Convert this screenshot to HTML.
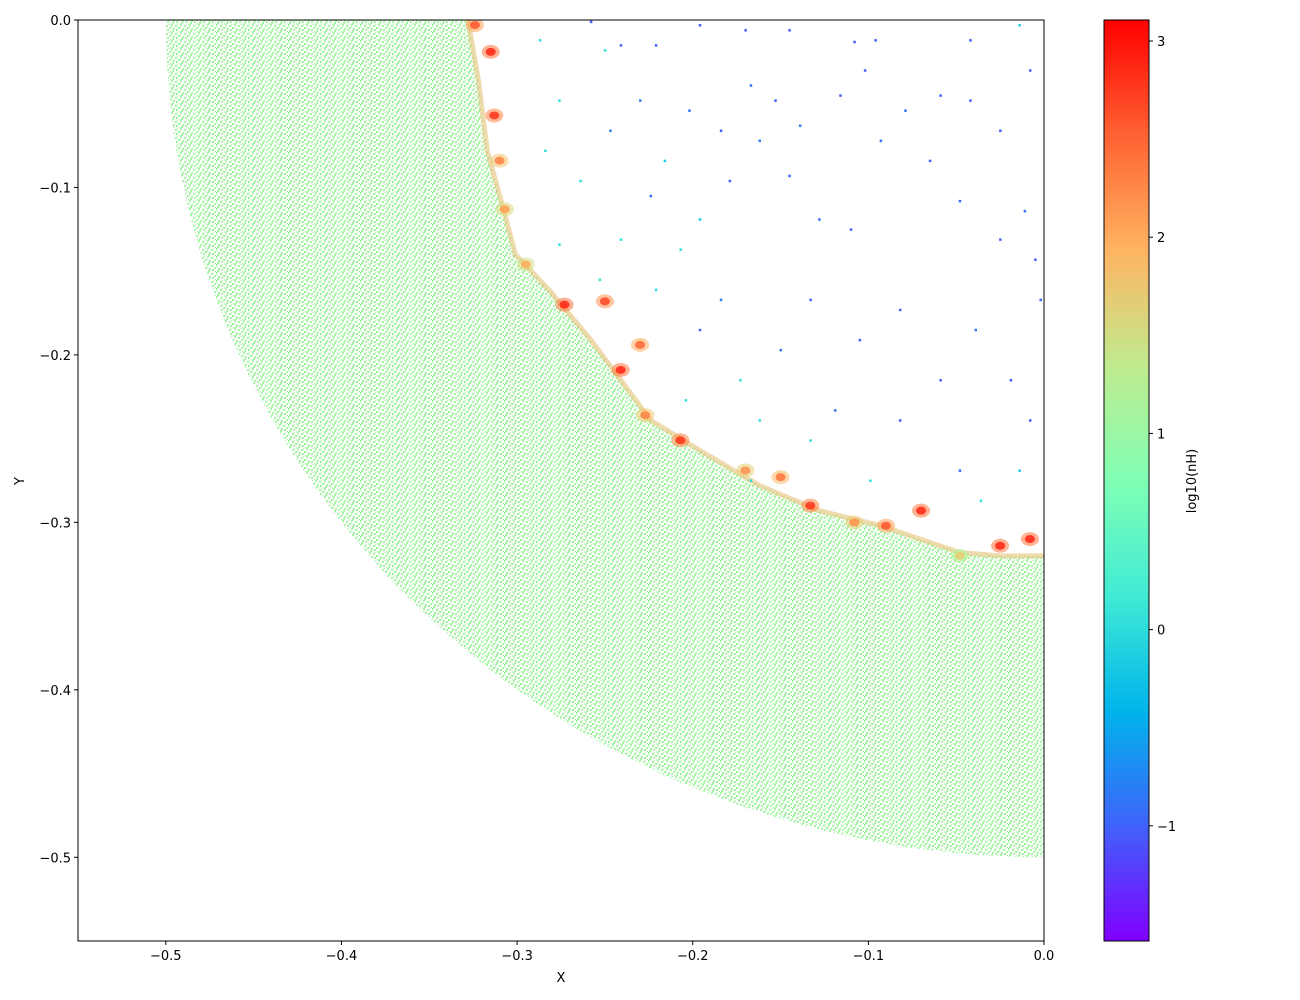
<!DOCTYPE html>
<html><head><meta charset="utf-8"><style>
html,body{margin:0;padding:0;background:#fff;}
svg{display:block;font-family:"DejaVu Sans","Liberation Sans",sans-serif;}
</style></head><body>
<svg id="chart" width="1300" height="1000">
<defs>
<pattern id="dots" width="9" height="8" patternUnits="userSpaceOnUse">
<rect width="9" height="8" fill="#ffffff"/>
<rect x="0" y="0" width="2" height="2" fill="#a3f7a1"/>
<rect x="4" y="1" width="2" height="2" fill="#a3f7a1"/>
<rect x="7" y="3" width="2" height="2" fill="#a3f7a1"/>
<rect x="2" y="4" width="2" height="2" fill="#a3f7a1"/>
<rect x="5" y="5" width="2" height="2" fill="#a3f7a1"/>
<rect x="1" y="6" width="2" height="2" fill="#a3f7a1"/>
<rect x="8" y="7" width="1" height="1" fill="#a3f7a1"/>
<rect x="6" y="0" width="1" height="1" fill="#a3f7a1"/>
<rect x="0" y="3" width="1" height="1" fill="#a3f7a1"/>
</pattern>
<linearGradient id="rainbow" x1="0" y1="1" x2="0" y2="0">
<stop offset="0" stop-color="#8000ff"/><stop offset="0.125" stop-color="#4062fa"/>
<stop offset="0.25" stop-color="#00b4eb"/><stop offset="0.375" stop-color="#40ebd4"/>
<stop offset="0.5" stop-color="#80ffb4"/><stop offset="0.625" stop-color="#c0eb8e"/>
<stop offset="0.75" stop-color="#ffb462"/><stop offset="0.875" stop-color="#ff6232"/>
<stop offset="1" stop-color="#ff0000"/>
</linearGradient>
<clipPath id="plotclip"><rect x="78" y="20" width="966" height="921"/></clipPath>
</defs>
<g id="plot" clip-path="url(#plotclip)"></g>
<rect x="78" y="20" width="966" height="921" fill="none" stroke="#000" stroke-width="1"/>
<g id="axes"></g>
<text x="561" y="982" font-size="13" text-anchor="middle">X</text>
<text x="24" y="481" font-size="13" text-anchor="middle" transform="rotate(-90 24 481)">Y</text>
<rect x="1104" y="20" width="45" height="921" fill="url(#rainbow)" stroke="#000" stroke-width="1"/>
<text x="1196" y="481" font-size="13" text-anchor="middle" transform="rotate(-90 1196 481)">log10(nH)</text>
</svg>
<script>
const xTicks=[-0.5,-0.4,-0.3,-0.2,-0.1,0.0];
const xTickLabels=["−0.5","−0.4","−0.3","−0.2","−0.1","0.0"];
const yTicks=[0.0,-0.1,-0.2,-0.3,-0.4,-0.5];
const yTickLabels=["0.0","−0.1","−0.2","−0.3","−0.4","−0.5"];
const cTicks=[3,2,1,0,-1];
const cTickLabels=["3","2","1","0","−1"];
const outerRadius=0.5;
const innerX=[-0.328,-0.322,-0.317,-0.307,-0.301,-0.282,-0.258,-0.241,-0.224,-0.196,-0.162,-0.128,-0.093,-0.048,-0.025,0.0];
const innerY=[0.0,-0.036,-0.078,-0.116,-0.140,-0.161,-0.191,-0.215,-0.239,-0.257,-0.278,-0.293,-0.302,-0.318,-0.320,-0.320];
const clusterX=[-0.324,-0.315,-0.313,-0.31,-0.307,-0.295,-0.273,-0.25,-0.241,-0.23,-0.227,-0.207,-0.17,-0.15,-0.133,-0.108,-0.07,-0.09,-0.025,-0.008,-0.048];
const clusterY=[-0.003,-0.019,-0.057,-0.084,-0.113,-0.146,-0.170,-0.168,-0.209,-0.194,-0.236,-0.251,-0.269,-0.273,-0.29,-0.30,-0.293,-0.302,-0.314,-0.31,-0.32];
const clusterVal=[2.6,2.9,2.8,2.3,2.1,2.0,2.9,2.7,2.9,2.5,2.3,2.8,2.2,2.4,2.8,2.2,2.9,2.6,2.9,2.9,1.7];
const sparseX=[-0.258,-0.241,-0.221,-0.196,-0.170,-0.145,-0.108,-0.096,-0.042,-0.008,-0.014,-0.230,-0.202,-0.184,-0.167,-0.153,-0.139,-0.116,-0.102,-0.079,-0.059,-0.042,-0.025,-0.011,-0.005,-0.002,-0.025,-0.048,-0.065,-0.093,-0.110,-0.128,-0.145,-0.162,-0.179,-0.196,-0.207,-0.224,-0.241,-0.253,-0.221,-0.184,-0.173,-0.150,-0.133,-0.119,-0.105,-0.082,-0.059,-0.039,-0.019,-0.008,-0.082,-0.099,-0.048,-0.014,-0.036,-0.133,-0.162,-0.196,-0.204,-0.287,-0.276,-0.284,-0.264,-0.247,-0.250,-0.276,-0.216,-0.167];
const sparseY=[-0.001,-0.015,-0.015,-0.003,-0.006,-0.006,-0.013,-0.012,-0.012,-0.030,-0.003,-0.048,-0.054,-0.066,-0.039,-0.048,-0.063,-0.045,-0.030,-0.054,-0.045,-0.048,-0.066,-0.114,-0.143,-0.167,-0.131,-0.108,-0.084,-0.072,-0.125,-0.119,-0.093,-0.072,-0.096,-0.119,-0.137,-0.105,-0.131,-0.155,-0.161,-0.167,-0.215,-0.197,-0.167,-0.233,-0.191,-0.173,-0.215,-0.185,-0.215,-0.239,-0.239,-0.275,-0.269,-0.269,-0.287,-0.251,-0.239,-0.185,-0.227,-0.012,-0.048,-0.078,-0.096,-0.066,-0.018,-0.134,-0.084,-0.275];
const sparseVal=[-1,-1,-1,-1,-1,-1,-1,-1,-1,-1,-0.1,-0.8,-0.9,-1,-0.9,-1,-0.8,-1,-1,-0.9,-1,-1,-1,-0.9,-1,-0.9,-1,-1,-1,-0.9,-1,-0.9,-1,-0.8,-1,-0.2,0,-0.9,0,0,0,-0.8,0,-0.9,-1,-0.9,-1,-1,-1,-0.9,-1,-1,-1,0,-1,-0.2,0,0,0,-1,0,0,0,0,0,-0.8,0,0,-0.2,0];

const NS="http://www.w3.org/2000/svg";
const X0=78,X1=1044,Y0=20,Y1=941;
const sx=v=>X0+(v-(-0.55))/(0.55)*(X1-X0);
const sy=v=>Y0+(0-v)/(0.55)*(Y1-Y0);
const cMin=-1.587,cMax=3.107;
const cy=v=>Y1-(v-cMin)/(cMax-cMin)*(Y1-Y0);
function cmap(v){let t=Math.max(0,Math.min(1,(v-cMin)/(cMax-cMin)));
 let r=Math.min(1,Math.abs(2*t-0.5)),g=Math.sin(Math.PI*t),b=Math.cos(Math.PI*t/2);
 return `rgb(${Math.round(r*255)},${Math.round(g*255)},${Math.round(b*255)})`;}
function mk(tag,attrs,parent){const e=document.createElementNS(NS,tag);for(const k in attrs)e.setAttribute(k,attrs[k]);parent.appendChild(e);return e;}
const plot=document.getElementById('plot'),axes=document.getElementById('axes');

let d=`M ${sx(-outerRadius)} ${sy(0)} A ${sx(0)-sx(-outerRadius)} ${sy(-outerRadius)-sy(0)} 0 0 0 ${sx(0)} ${sy(-outerRadius)}`;
for(let i=innerX.length-1;i>=0;i--) d+=` L ${sx(innerX[i])} ${sy(innerY[i])}`;
d+=' Z';
const dense=mk('path',{d:d,fill:'url(#dots)'},plot);


let bd='';
for(let i=0;i<innerX.length;i++) bd+=(i?' L ':'M ')+sx(innerX[i])+' '+sy(innerY[i]);
const band=mk('path',{d:bd,fill:'none',stroke:'#e6c27a','stroke-width':5,'stroke-linejoin':'round',opacity:0.6},plot);



for(let i=0;i<sparseX.length;i++){
 const c=mk('rect',{x:sx(sparseX[i])-1,y:sy(sparseY[i])-1,width:2.5,height:2.5,fill:cmap(sparseVal[i])},plot);
 
 
}
for(let i=0;i<clusterX.length;i++){
 const g=mk('g',{},plot);
 
 
 mk('ellipse',{cx:sx(clusterX[i]),cy:sy(clusterY[i]),rx:9,ry:7,fill:cmap(clusterVal[i]-0.5),opacity:0.55},g);
 mk('ellipse',{cx:sx(clusterX[i]),cy:sy(clusterY[i]),rx:5,ry:4,fill:cmap(clusterVal[i]),opacity:0.85},g);
}

for(let i=0;i<xTicks.length;i++){
 const x=sx(xTicks[i]);
 const t=mk('line',{x1:x,x2:x,y1:Y1,y2:Y1+4,stroke:'#000'},axes);
 
 
 const l=mk('text',{x:x,y:Y1+19,'font-size':13,'text-anchor':'middle'},axes);l.textContent=xTickLabels[i];
 
 
}
for(let i=0;i<yTicks.length;i++){
 const y=sy(yTicks[i]);
 const t=mk('line',{x1:X0-4,x2:X0,y1:y,y2:y,stroke:'#000'},axes);
 
 
 const l=mk('text',{x:X0-7,y:y+5,'font-size':13,'text-anchor':'end'},axes);l.textContent=yTickLabels[i];
 
 
}
for(let i=0;i<cTicks.length;i++){
 const y=cy(cTicks[i]);
 const t=mk('line',{x1:1149,x2:1153,y1:y,y2:y,stroke:'#000'},axes);
 
 
 const l=mk('text',{x:1157,y:y+5,'font-size':13},axes);l.textContent=cTickLabels[i];
 
 
}
</script>
</body></html>
